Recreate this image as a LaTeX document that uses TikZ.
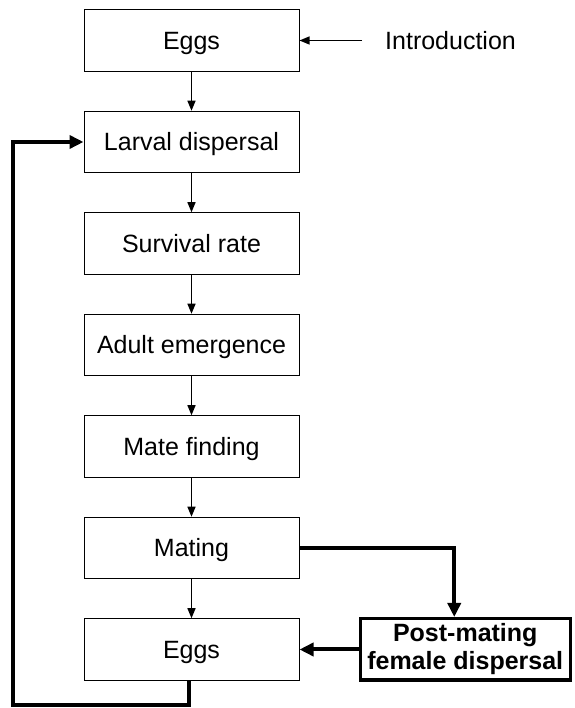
\documentclass[tikz,border=0pt]{standalone}
\usepackage{fontspec}
\setmainfont{Liberation Sans}
\usetikzlibrary{arrows.meta, positioning}

\tikzset{
  stage/.style={draw, line width=1pt, minimum width=215pt, minimum height=61.5pt,
    inner sep=0pt, text height=18pt, text depth=0pt, font=\fontsize{25}{28}\selectfont},
  postbox/.style={draw, line width=3.5pt, minimum width=210pt, minimum height=61.5pt,
    inner sep=0pt, align=center, font=\bfseries\fontsize{25}{28}\selectfont},
  flow/.style={line width=1.3pt, -{Triangle[length=10pt, width=8pt]}},
  feedback/.style={line width=4pt, -{Triangle[length=14pt, width=13pt]}},
}

\begin{document}
\begin{tikzpicture}[x=1pt, y=1pt, node distance=39pt]
        \useasboundingbox (0,0) rectangle (574,708);

        % Stadi del ciclo
        \node[stage] (eggs) at (191.5,667.5) {Eggs};
        \node[stage, below=of eggs] (larval) {Larval dispersal};
        \node[stage, below=of larval] (survival) {Survival rate};
        \node[stage, below=of survival] (adult) {Adult emergence};
        \node[stage, below=of adult] (matefind) {Mate finding};
        \node[stage, below=of matefind] (mating) {Mating};
        \node[stage, below=of mating] (eggsnext) {Eggs};

        \node[postbox, right=59pt of eggsnext] (post) {Post-mating\\female dispersal};
        \node[inner sep=0pt, font=\fontsize{25}{28}\selectfont, right=85.5pt of eggs] (intro) {Introduction};

        % Frecce tra gli stadi
        \foreach \a/\b in {eggs/larval, larval/survival, survival/adult,
                           adult/matefind, matefind/mating, mating/eggsnext}
          \draw[flow] (\a) -- (\b);

        \draw[flow, shorten <=23pt] (intro.west) -- (eggs.east |- intro.west);

        % Ritorno alla dispersione larvale
        \coordinate (loopcorner) at (12.5,3);
        \draw[feedback] ([xshift=-3pt]eggsnext.south) |- (loopcorner) |- (larval.west);

        % Dispersione delle femmine dopo l'accoppiamento
        \draw[feedback] (mating.east) -| ([xshift=-11pt]post.north);
        \draw[feedback] (post.west) -- (eggsnext.east |- post.west);
    \end{tikzpicture}
\end{document}
